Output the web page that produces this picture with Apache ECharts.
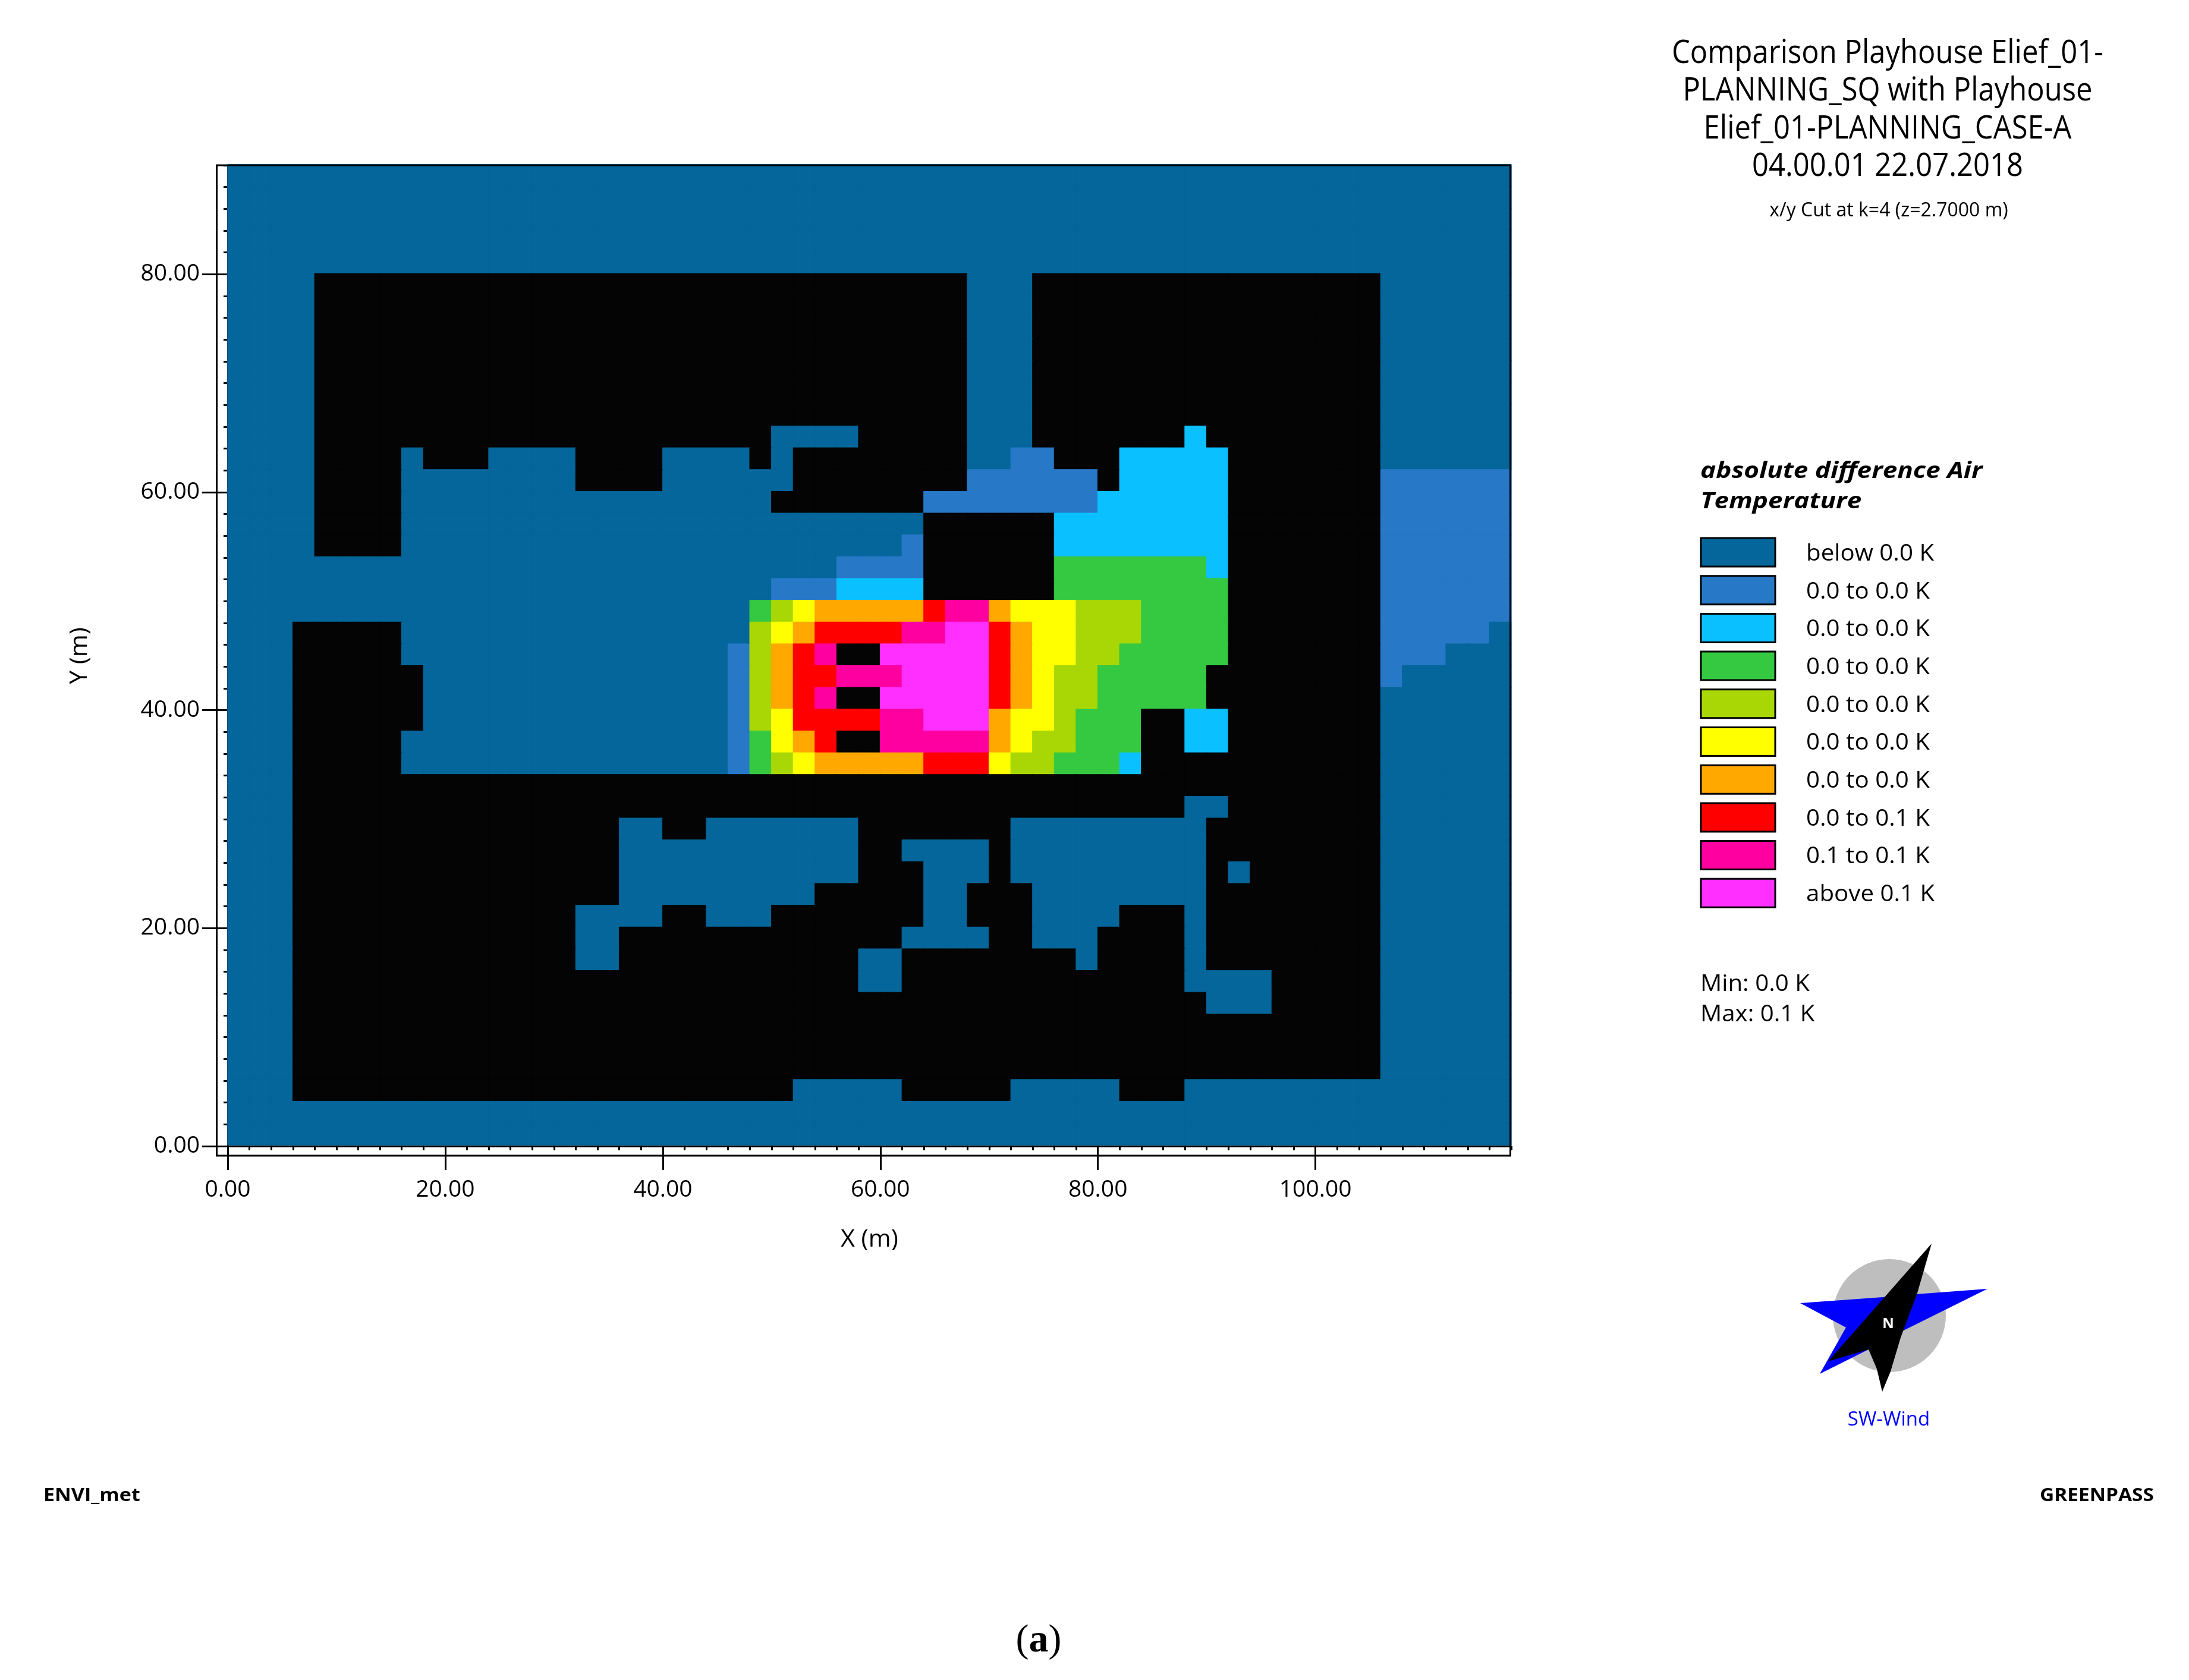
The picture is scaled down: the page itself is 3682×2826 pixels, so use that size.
<!DOCTYPE html>
<html>
<head>
<meta charset="utf-8">
<style>
html, body { margin: 0; padding: 0; background: #fff; }
#main { width: 3682px; height: 2826px; }
</style>
<script src="https://cdn.jsdelivr.net/npm/echarts@6/dist/echarts.min.js"></script>
</head>
<body>
<div id="main"></div>
<script>
// cell centres are not drawn on these axes, they only name the 2 m cells
var cellX = [0,2,4,6,8,10,12,14,16,18,20,22,24,26,28,30,32,34,36,38,40,42,44,46,48,50,52,54,56,58,
	60,62,64,66,68,70,72,74,76,78,80,82,84,86,88,90,92,94,96,98,100,102,104,106,108,110,112,114,116];
var cellY = [88,86,84,82,80,78,76,74,72,70,68,66,64,62,60,58,56,54,52,50,48,46,44,42,40,38,36,34,32,30,
	28,26,24,22,20,18,16,14,12,10,8,6,4,2,0];

var xMajorTicks = [0, 20, 40, 60, 80, 100];
var yMajorTicks = [0, 20, 40, 60, 80];

var levelLabels = ['below 0.0 K', '0.0 to 0.0 K', '0.0 to 0.0 K', '0.0 to 0.0 K', '0.0 to 0.0 K',
	'0.0 to 0.0 K', '0.0 to 0.0 K', '0.0 to 0.1 K', '0.1 to 0.1 K', 'above 0.1 K'];

// one string per row, top row first, spaces every 10 m. digit = legend class, K = building (no value)
var cellRows = [
	'00000 00000 00000 00000 00000 00000 00000 00000 00000 00000 00000 0000', // y 88
	'00000 00000 00000 00000 00000 00000 00000 00000 00000 00000 00000 0000',
	'00000 00000 00000 00000 00000 00000 00000 00000 00000 00000 00000 0000',
	'00000 00000 00000 00000 00000 00000 00000 00000 00000 00000 00000 0000',
	'00000 00000 00000 00000 00000 00000 00000 00000 00000 00000 00000 0000', // y 80
	'0000K KKKKK KKKKK KKKKK KKKKK KKKKK KKKK0 00KKK KKKKK KKKKK KKK00 0000',
	'0000K KKKKK KKKKK KKKKK KKKKK KKKKK KKKK0 00KKK KKKKK KKKKK KKK00 0000',
	'0000K KKKKK KKKKK KKKKK KKKKK KKKKK KKKK0 00KKK KKKKK KKKKK KKK00 0000',
	'0000K KKKKK KKKKK KKKKK KKKKK KKKKK KKKK0 00KKK KKKKK KKKKK KKK00 0000',
	'0000K KKKKK KKKKK KKKKK KKKKK KKKKK KKKK0 00KKK KKKKK KKKKK KKK00 0000',
	'0000K KKKKK KKKKK KKKKK KKKKK KKKKK KKKK0 00KKK KKKKK KKKKK KKK00 0000',
	'0000K KKKKK KKKKK KKKKK KKKKK KKKKK KKKK0 00KKK KKKKK KKKKK KKK00 0000', // y 66
	'0000K KKKKK KKKKK KKKKK KKKKK 0000K KKKK0 00KKK KKKK2 KKKKK KKK00 0000', // y 64
	'0000K KKK0K KK000 0KKKK 0000K 0KKKK KKKK0 011KK K2222 2KKKK KKK00 0000',
	'0000K KKK00 00000 0KKKK 00000 0KKKK KKKK1 11111 K2222 2KKKK KKK11 1111', // y 60
	'0000K KKK00 00000 00000 00000 KKKKK KK111 11111 22222 2KKKK KKK11 1111',
	'0000K KKK00 00000 00000 00000 00000 00KKK KKK22 22222 2KKKK KKK11 1111',
	'0000K KKK00 00000 00000 00000 00000 01KKK KKK22 22222 2KKKK KKK11 1111',
	'00000 00000 00000 00000 00000 00011 11KKK KKK33 33333 2KKKK KKK11 1111',
	'00000 00000 00000 00000 00000 11122 22KKK KKK33 33333 3KKKK KKK11 1111', // y 50
	'00000 00000 00000 00000 00003 45666 66788 65554 44333 3KKKK KKK11 1111',
	'000KK KKK00 00000 00000 00004 56777 78899 76554 44333 3KKKK KKK11 1110',
	'000KK KKK00 00000 00000 00014 678KK 99999 76554 43333 3KKKK KKK11 1000',
	'000KK KKKK0 00000 00000 00014 67788 89999 76544 33333 KKKKK KKK10 0000',
	'000KK KKKK0 00000 00000 00014 678KK 99999 76544 33333 KKKKK KKK00 0000', // y 40
	'000KK KKKK0 00000 00000 00014 57777 88999 65543 33KK2 2KKKK KKK00 0000',
	'000KK KKK00 00000 00000 00013 567KK 88888 65443 33KK2 2KKKK KKK00 0000',
	'000KK KKK00 00000 00000 00013 45666 66777 54433 32KKK KKKKK KKK00 0000',
	'000KK KKKKK KKKKK KKKKK KKKKK KKKKK KKKKK KKKKK KKKKK KKKKK KKK00 0000',
	'000KK KKKKK KKKKK KKKKK KKKKK KKKKK KKKKK KKKKK KKKK0 0KKKK KKK00 0000', // y 30
	'000KK KKKKK KKKKK KKK00 KK000 0000K KKKKK K0000 00000 KKKKK KKK00 0000',
	'000KK KKKKK KKKKK KKK00 00000 0000K K0000 K0000 00000 KKKKK KKK00 0000',
	'000KK KKKKK KKKKK KKK00 00000 0000K KK000 K0000 00000 K0KKK KKK00 0000',
	'000KK KKKKK KKKKK KKK00 00000 00KKK KK00K KK000 00000 KKKKK KKK00 0000',
	'000KK KKKKK KKKKK K0000 KK000 KKKKK KK00K KK000 0KKK0 KKKKK KKK00 0000', // y 20
	'000KK KKKKK KKKKK K00KK KKKKK KKKKK K0000 KK000 KKKK0 KKKKK KKK00 0000',
	'000KK KKKKK KKKKK K00KK KKKKK KKKK0 0KKKK KKKK0 KKKK0 KKKKK KKK00 0000',
	'000KK KKKKK KKKKK KKKKK KKKKK KKKK0 0KKKK KKKKK KKKK0 000KK KKK00 0000',
	'000KK KKKKK KKKKK KKKKK KKKKK KKKKK KKKKK KKKKK KKKKK 000KK KKK00 0000',
	'000KK KKKKK KKKKK KKKKK KKKKK KKKKK KKKKK KKKKK KKKKK KKKKK KKK00 0000', // y 10
	'000KK KKKKK KKKKK KKKKK KKKKK KKKKK KKKKK KKKKK KKKKK KKKKK KKK00 0000',
	'000KK KKKKK KKKKK KKKKK KKKKK KKKKK KKKKK KKKKK KKKKK KKKKK KKK00 0000',
	'000KK KKKKK KKKKK KKKKK KKKKK K0000 0KKKK K0000 0KKK0 00000 00000 0000', // y 4
	'00000 00000 00000 00000 00000 00000 00000 00000 00000 00000 00000 0000',
	'00000 00000 00000 00000 00000 00000 00000 00000 00000 00000 00000 0000'  // y 0
];

var levelColors = ['#04669a', '#2878c8', '#0bc0ff', '#35c941', '#a8d705',
	'#ffff00', '#ffa800', '#ff0000', '#ff00a0', '#ff30ff'];
var buildingColor = '#040404';
var axisFont = '"Open Sans"';

var cells = [];
cellRows.forEach(function(row, r) {
	row.replace(/ /g, '').split('').forEach(function(ch, c) {
		var level = ch === 'K' ? -1 : Number(ch);
		cells.push({
			value: [c, r, level],
			// border in the cell colour, otherwise white seams show between cells
			itemStyle: { borderWidth: 1, borderColor: level < 0 ? buildingColor : levelColors[level] }
		});
	});
});

var pieces = [{ value: -1, color: buildingColor }];
levelColors.forEach(function(col, i) {
	pieces.push({ value: i, color: col });
});

// the axes and the cells sit on nearly the same rectangle, the cells end a little above y=0 in the original
var axisRect = { left: 383, top: 278, width: 2159, height: 1650 };
var heatRect = { left: 383, top: 277, width: 2159, height: 1649 };

var graphics = [];
function addText(x, y, text, font, size, extra) {
	var style = { x: 0, y: 0, text: text, fontFamily: font, fontSize: size, fill: '#000', align: 'center', verticalAlign: 'middle' };
	var scaleX = 1;
	for (var k in extra) {
		if (k === 'scaleX') scaleX = extra[k];
		else style[k] = extra[k];
	}
	graphics.push({ type: 'text', silent: true, z: 10, x: x, y: y, scaleX: scaleX, style: style });
}
function addPoly(points, fill) {
	graphics.push({ type: 'polygon', silent: true, z: 5, shape: { points: points }, style: { fill: fill } });
}

// outer frame of the plot
graphics.push({
	type: 'rect', silent: true, z: 9,
	shape: { x: 364.5, y: 278, width: 2176, height: 1666 },
	style: { fill: 'none', stroke: '#000', lineWidth: 3 }
});

// heading
addText(3175, 90, 'Comparison Playhouse Elief_01-', axisFont, 55, { scaleX: 0.89 });
addText(3175, 153, 'PLANNING_SQ with Playhouse', axisFont, 55, { scaleX: 0.89 });
addText(3175, 217, 'Elief_01-PLANNING_CASE-A', axisFont, 55, { scaleX: 0.89 });
addText(3175, 280, '04.00.01 22.07.2018', axisFont, 55, { scaleX: 0.89 });
addText(3177, 355, 'x/y Cut at k=4 (z=2.7000 m)', axisFont, 32);

// legend
var titleStyle = { align: 'left', fontWeight: 'bold', fontStyle: 'italic', scaleX: 1.16 };
addText(2860, 793, 'absolute difference Air', axisFont, 38, titleStyle);
addText(2860, 844, 'Temperature', axisFont, 38, titleStyle);
levelLabels.forEach(function(label, i) {
	var y = 905 + i * 63.7;
	graphics.push({
		type: 'rect', silent: true, z: 5,
		shape: { x: 2861, y: y, width: 125, height: 48 },
		style: { fill: levelColors[i], stroke: '#000', lineWidth: 3 }
	});
	addText(3038, y + 27, label, axisFont, 38, { align: 'left', scaleX: 1.06 });
});
addText(2860, 1656, 'Min: 0.0 K', axisFont, 38, { align: 'left', scaleX: 1.06 });
addText(2860, 1707, 'Max: 0.1 K', axisFont, 38, { align: 'left', scaleX: 1.06 });

// compass
graphics.push({
	type: 'circle', silent: true, z: 4,
	shape: { cx: 3178, cy: 2213, r: 95 },
	style: { fill: '#bebebe' }
});
addPoly([[3028, 2192], [3167, 2182], [3223, 2177], [3343, 2168], [3202, 2238], [3143, 2270], [3061, 2311], [3105, 2233]], '#0000ff');
addPoly([[3249, 2092], [3225, 2175], [3197, 2250], [3180, 2307], [3166, 2341], [3157, 2303], [3143, 2270], [3075, 2290]], '#000');
addText(3176, 2227, 'N', axisFont, 24, { fill: '#fff', fontWeight: 'bold' });
addText(3177, 2389, 'SW-Wind', axisFont, 33, { fill: '#0000ff' });

// footers
addText(73, 2516, 'ENVI_met', axisFont, 31, { align: 'left', fontWeight: 'bold', scaleX: 1.1 });
addText(3623, 2516, 'GREENPASS', axisFont, 31, { align: 'right', fontWeight: 'bold', scaleX: 1.08 });
addText(1747, 2761, '({b|a})', '"Liberation Serif"', 66, {
	rich: { b: { fontFamily: '"Liberation Serif"', fontSize: 66, fontWeight: 'bold', fill: '#000' } }
});

var dom = document.getElementById('main');
var myChart = echarts.init(dom);
var option = {
	animation: false,
	backgroundColor: '#fff',
	grid: [heatRect, axisRect, axisRect],
	xAxis: [{
		// heat cells
		type: 'category', gridIndex: 0, data: cellX, show: false
	}, {
		// short ticks every 2 m
		type: 'value', gridIndex: 1, min: 0, max: 118, interval: 2,
		splitLine: { show: false },
		axisLine: { show: true, onZero: false, lineStyle: { color: '#000', width: 3 } },
		axisTick: { show: true, length: 7, lineStyle: { color: '#000', width: 3 } },
		axisLabel: { show: false }
	}, {
		// long ticks and the labels
		type: 'value', gridIndex: 2, min: 0, max: 118, interval: 20,
		name: 'X (m)', nameLocation: 'middle', nameGap: 137,
		nameTextStyle: { fontFamily: axisFont, fontSize: 41, color: '#000' },
		splitLine: { show: false },
		axisLine: { show: false, onZero: false },
		axisTick: { show: true, customValues: xMajorTicks, length: 40, lineStyle: { color: '#000', width: 3 } },
		axisLabel: {
			show: true, customValues: xMajorTicks, margin: 54,
			fontFamily: axisFont, fontSize: 39, color: '#000',
			formatter: function(v) { return v.toFixed(2); }
		}
	}],
	yAxis: [{
		type: 'category', gridIndex: 0, data: cellY, inverse: true, show: false
	}, {
		type: 'value', gridIndex: 1, min: 0, max: 90, interval: 2,
		splitLine: { show: false },
		axisLine: { show: true, onZero: false, lineStyle: { color: '#000', width: 3 } },
		axisTick: { show: true, length: 7, lineStyle: { color: '#000', width: 3 } },
		axisLabel: { show: false }
	}, {
		type: 'value', gridIndex: 2, min: 0, max: 90, interval: 20,
		name: 'Y (m)', nameLocation: 'middle', nameGap: 228,
		nameTextStyle: { fontFamily: axisFont, fontSize: 41, color: '#000' },
		splitLine: { show: false },
		axisLine: { show: false, onZero: false },
		axisTick: { show: true, customValues: yMajorTicks, length: 43, lineStyle: { color: '#000', width: 3 } },
		axisLabel: {
			show: true, customValues: yMajorTicks, margin: 47,
			fontFamily: axisFont, fontSize: 39, color: '#000',
			formatter: function(v) { return v.toFixed(2); }
		}
	}],
	visualMap: {
		type: 'piecewise', show: false, dimension: 2, seriesIndex: 0,
		pieces: pieces
	},
	series: [{
		name: 'absolute difference Air Temperature',
		type: 'heatmap',
		xAxisIndex: 0,
		yAxisIndex: 0,
		progressive: 0,
		data: cells,
		emphasis: { disabled: true }
	}],
	graphic: graphics
};
myChart.setOption(option, true);
</script>
</body>
</html>
